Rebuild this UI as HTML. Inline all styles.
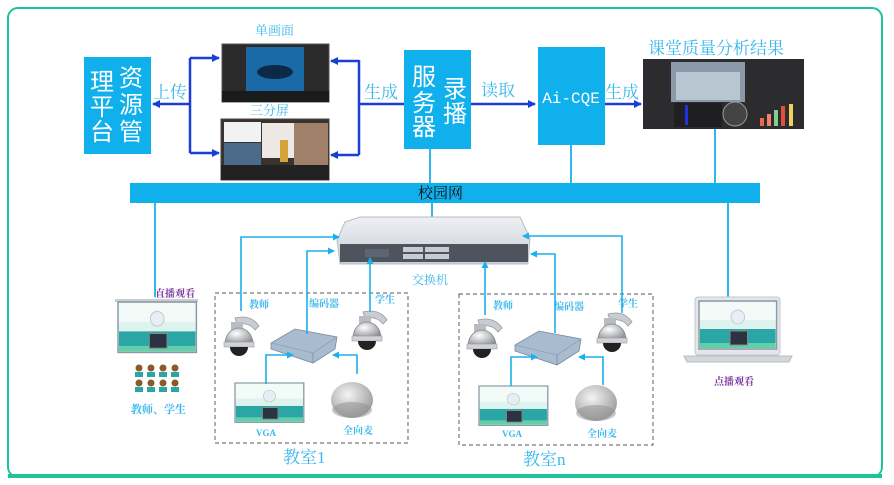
<!DOCTYPE html>
<html><head><meta charset="utf-8"><style>
html,body{margin:0;padding:0;background:#fff}
svg{display:block}
text{font-family:"Liberation Serif","Noto Serif CJK SC",serif}
</style></head><body>
<svg width="894" height="485" viewBox="0 0 894 485" xmlns="http://www.w3.org/2000/svg">
<defs>
<marker id="ab" markerWidth="8" markerHeight="8" refX="7" refY="4" orient="auto" markerUnits="userSpaceOnUse"><path d="M0,0 L8,4 L0,8 z" fill="#1a3fd6"/></marker>
<marker id="ac" markerWidth="7" markerHeight="7" refX="6" refY="3.5" orient="auto" markerUnits="userSpaceOnUse"><path d="M0,0 L7,3.5 L0,7 z" fill="#1ab0ec"/></marker>
<linearGradient id="sw" x1="0" y1="0" x2="0" y2="1"><stop offset="0" stop-color="#eef0f3"/><stop offset="1" stop-color="#c9ced6"/></linearGradient>
<radialGradient id="mic" cx="0.4" cy="0.35" r="0.7"><stop offset="0" stop-color="#f4f4f4"/><stop offset="1" stop-color="#9a9a9a"/></radialGradient>
<radialGradient id="dome" cx="0.4" cy="0.35" r="0.7"><stop offset="0" stop-color="#ffffff"/><stop offset="1" stop-color="#8a8d92"/></radialGradient>
<g id="web">
<rect x="0" y="0" width="80" height="48" fill="#dff3ee" stroke="#8a9aa6" stroke-width="1.5"/>
<rect x="1" y="1" width="78" height="18" fill="#f3fbf8"/>
<rect x="1" y="28" width="78" height="14" fill="#2ba6a6"/>
<rect x="1" y="42" width="78" height="5" fill="#5fd0a8"/>
<rect x="32" y="30" width="18" height="14" fill="#2c3340" stroke="#888" stroke-width="1"/>
<circle cx="40" cy="16" r="7" fill="#e9eef4" stroke="#c0ccd8"/>
</g>
<g id="cam">
<path d="M10,2 Q26,-2 34,10 L30,14 Q24,6 12,8 z" fill="#c9ccd2" stroke="#999" stroke-width="0.8"/>
<rect x="6" y="6" width="12" height="8" fill="#b8bcc3"/>
<path d="M0,28 A14,16 0 0 1 28,28 z" fill="url(#dome)" stroke="#888" stroke-width="0.8"/>
<rect x="-1" y="26" width="30" height="5" fill="#cfd2d7" stroke="#999" stroke-width="0.6"/>
<path d="M5,31 A9,9 0 0 0 23,31 z" fill="#222"/>
</g>
<g id="enc">
<path d="M0,14 L24,0 L66,8 L64,20 L42,34 L0,20 z" fill="#a9bccf" stroke="#7b8a9a" stroke-width="0.8"/>
<path d="M0,14 L42,24 L66,8" fill="none" stroke="#8ea0b3" stroke-width="0.8"/>
<path d="M42,24 L42,34" stroke="#7b8a9a" stroke-width="0.8"/>
</g>
<g id="micg">
<ellipse cx="20" cy="18" rx="21" ry="18" fill="url(#mic)"/>
<ellipse cx="20" cy="28" rx="20" ry="8" fill="#8f8f8f" opacity="0.5"/>
</g>
</defs>

<rect x="8" y="8" width="874" height="469" rx="10" fill="none" stroke="#1fc39b" stroke-width="2"/>
<rect x="8" y="474" width="874" height="4" fill="#1fc39b"/>

<rect x="84" y="57" width="67" height="97" fill="#0fb0ec"/>
<g fill="#fff" font-size="24">
<text x="119" y="86" style="font-family:'Liberation Sans','Noto Sans CJK SC',sans-serif">资</text>
<text x="119" y="113" style="font-family:'Liberation Sans','Noto Sans CJK SC',sans-serif">源</text>
<text x="119" y="140" style="font-family:'Liberation Sans','Noto Sans CJK SC',sans-serif">管</text>
<text x="90" y="90" style="font-family:'Liberation Sans','Noto Sans CJK SC',sans-serif">理</text>
<text x="90" y="115" style="font-family:'Liberation Sans','Noto Sans CJK SC',sans-serif">平</text>
<text x="90" y="140" style="font-family:'Liberation Sans','Noto Sans CJK SC',sans-serif">台</text>
</g>
<text x="153" y="98" font-size="17" fill="#38b8ec">上传</text>
<g stroke="#1a3fd6" stroke-width="2.5" fill="none">
<path d="M190,58 L190,153"/>
<path d="M190,104 L153,104" marker-end="url(#ab)"/>
<path d="M190,58 L219,58" marker-end="url(#ab)"/>
<path d="M190,153 L219,153" marker-end="url(#ab)"/>
<path d="M359,60 L359,155"/>
<path d="M404,104 L359,104"/>
<path d="M359,61 L331,61" marker-end="url(#ab)"/>
<path d="M359,155 L331,155" marker-end="url(#ab)"/>
<path d="M470,104 L535,104" marker-end="url(#ab)"/>
<path d="M604,104 L641,104" marker-end="url(#ab)"/>
</g>

<text x="255" y="35" font-size="13" fill="#38b8ec">单画面</text>
<rect x="222" y="44" width="107" height="58" fill="#2a2a2a" stroke="#555"/>
<rect x="246" y="47" width="58" height="44" fill="#1a6aa8"/>
<ellipse cx="275" cy="72" rx="18" ry="7" fill="#0c2a46"/>
<rect x="222" y="91" width="107" height="11" fill="#1b1b1b"/>
<text x="250" y="115" font-size="13" fill="#38b8ec">三分屏</text>
<rect x="221" y="119" width="108" height="61" fill="#3a3230" stroke="#444"/>
<rect x="224" y="122" width="37" height="20" fill="#f2f2f5"/>
<rect x="224" y="143" width="37" height="22" fill="#4c6a8a"/>
<rect x="262" y="123" width="32" height="35" fill="#ece9e4"/>
<rect x="294" y="123" width="34" height="42" fill="#a08068"/>
<rect x="280" y="140" width="8" height="22" fill="#d4a43a"/>
<rect x="221" y="165" width="108" height="15" fill="#222"/>

<rect x="404" y="50" width="67" height="99" fill="#0fb0ec"/>
<g fill="#fff" font-size="24">
<text x="412" y="85" style="font-family:'Liberation Sans','Noto Sans CJK SC',sans-serif">服</text>
<text x="412" y="111" style="font-family:'Liberation Sans','Noto Sans CJK SC',sans-serif">务</text>
<text x="412" y="135" style="font-family:'Liberation Sans','Noto Sans CJK SC',sans-serif">器</text>
<text x="443" y="97" style="font-family:'Liberation Sans','Noto Sans CJK SC',sans-serif">录</text>
<text x="443" y="122" style="font-family:'Liberation Sans','Noto Sans CJK SC',sans-serif">播</text>
</g>
<text x="364" y="98" font-size="17" fill="#38b8ec">生成</text>
<text x="481" y="96" font-size="17" fill="#38b8ec">读取</text>

<rect x="538" y="47" width="67" height="98" fill="#0fb0ec"/>
<text x="571" y="103" font-size="16" fill="#fff" text-anchor="middle" style="font-family:'Liberation Mono',monospace">Ai-CQE</text>
<text x="605" y="98" font-size="17" fill="#38b8ec">生成</text>

<text x="648" y="54" font-size="17" fill="#38b8ec">课堂质量分析结果</text>
<rect x="643" y="59" width="161" height="70" fill="#2c2c2e"/>
<rect x="671" y="62" width="74" height="40" fill="#8a9aa8"/>
<rect x="676" y="72" width="64" height="28" fill="#b8c6d2"/>
<rect x="674" y="103" width="48" height="24" fill="#1f1f22"/>
<rect x="685" y="105" width="3" height="20" fill="#2230e0"/>
<circle cx="735" cy="114" r="12" fill="#444" stroke="#999"/>
<rect x="760" y="118" width="4" height="8" fill="#e46a4a"/><rect x="767" y="114" width="4" height="12" fill="#f08070"/><rect x="774" y="110" width="4" height="16" fill="#7ed08a"/><rect x="781" y="106" width="4" height="20" fill="#e05040"/><rect x="789" y="104" width="4" height="22" fill="#f0d060"/>

<g stroke="#1ab0ec" stroke-width="1.8" fill="none">
<path d="M430,149 L430,184"/>
<path d="M571,145 L571,184"/>
<path d="M715,129 L715,184"/>
<path d="M155,203 L155,297"/>
<path d="M432,203 L432,220"/>
<path d="M728,203 L728,300"/>
</g>
<rect x="130" y="183" width="630" height="20" fill="#0fb0ec"/>
<text x="418" y="198" font-size="15" fill="#111">校园网</text>

<path d="M345,222 L360,217 L520,217 L530,238 L528,264 L340,264 L337,240 z" fill="url(#sw)" stroke="#b8bec6"/>
<rect x="340" y="244" width="188" height="18" fill="#4d545e"/>
<g fill="#c8ccd2">
<rect x="403" y="247" width="20" height="5"/><rect x="403" y="254" width="20" height="5"/>
<rect x="425" y="247" width="24" height="5"/><rect x="425" y="254" width="24" height="5"/>
<rect x="365" y="249" width="24" height="8" fill="#5d6570"/>
</g>
<text x="412" y="284" font-size="12" fill="#38b8ec">交换机</text>

<rect x="215" y="293" width="193" height="150" fill="none" stroke="#777" stroke-width="1.2" stroke-dasharray="4,3"/>
<text x="283" y="463" font-size="17" fill="#38b8ec">教室1</text>
<text x="249" y="308" font-size="10" fill="#38b8ec" font-weight="bold">教师</text>
<text x="309" y="307" font-size="10" fill="#38b8ec" font-weight="bold">编码器</text>
<text x="375" y="303" font-size="10" fill="#38b8ec" font-weight="bold">学生</text>
<use href="#cam" x="225" y="316"/>
<use href="#cam" x="353" y="310"/>
<use href="#enc" x="271" y="329"/>
<use href="#web" transform="translate(235,383) scale(0.86,0.82)"/>
<use href="#micg" x="332" y="382"/>
<text x="256" y="436" font-size="9" fill="#38b8ec" font-weight="bold">VGA</text>
<text x="343" y="434" font-size="10" fill="#38b8ec" font-weight="bold">全向麦</text>
<g stroke="#1ab0ec" stroke-width="1.6" fill="none">
<path d="M241,311 L241,237 L339,237" marker-end="url(#ac)"/>
<path d="M307,334 L307,251 L334,251" marker-end="url(#ac)"/>
<path d="M370,312 L370,258" marker-end="url(#ac)"/>
<path d="M266,384 L266,355 L293,355" marker-end="url(#ac)"/>
<path d="M357,374 L357,355 L333,355" marker-end="url(#ac)"/>
</g>

<rect x="459" y="294" width="194" height="151" fill="none" stroke="#777" stroke-width="1.2" stroke-dasharray="4,3"/>
<text x="523" y="465" font-size="17" fill="#38b8ec">教室n</text>
<text x="493" y="309" font-size="10" fill="#38b8ec" font-weight="bold">教师</text>
<text x="554" y="310" font-size="10" fill="#38b8ec" font-weight="bold">编码器</text>
<text x="618" y="307" font-size="10" fill="#38b8ec" font-weight="bold">学生</text>
<use href="#cam" x="468" y="318"/>
<use href="#cam" x="598" y="312"/>
<use href="#enc" x="515" y="331"/>
<use href="#web" transform="translate(479,386) scale(0.86,0.82)"/>
<use href="#micg" x="576" y="385"/>
<text x="502" y="437" font-size="9" fill="#38b8ec" font-weight="bold">VGA</text>
<text x="587" y="437" font-size="10" fill="#38b8ec" font-weight="bold">全向麦</text>
<g stroke="#1ab0ec" stroke-width="1.6" fill="none">
<path d="M485,315 L485,262" marker-end="url(#ac)"/>
<path d="M555,333 L555,254 L531,254" marker-end="url(#ac)"/>
<path d="M622,313 L622,236 L523,236" marker-end="url(#ac)"/>
<path d="M511,386 L511,357 L537,357" marker-end="url(#ac)"/>
<path d="M603,385 L603,357 L579,357" marker-end="url(#ac)"/>
</g>

<rect x="115" y="299" width="83" height="3" fill="#ccc"/>
<use href="#web" transform="translate(118,302) scale(0.98,1.05)"/>
<text x="155" y="297" font-size="10" fill="#7a3aa0" font-weight="bold">直播观看</text>
<g fill="#8b5a2b">
<circle cx="139" cy="368" r="3.5"/><circle cx="151" cy="368" r="3.5"/><circle cx="163" cy="368" r="3.5"/><circle cx="175" cy="368" r="3.5"/>
<circle cx="139" cy="383" r="3.5"/><circle cx="151" cy="383" r="3.5"/><circle cx="163" cy="383" r="3.5"/><circle cx="175" cy="383" r="3.5"/>
</g>
<g fill="#2ba6a6">
<rect x="135" y="372" width="8" height="5"/><rect x="147" y="372" width="8" height="5"/><rect x="159" y="372" width="8" height="5"/><rect x="171" y="372" width="8" height="5"/>
<rect x="135" y="387" width="8" height="5"/><rect x="147" y="387" width="8" height="5"/><rect x="159" y="387" width="8" height="5"/><rect x="171" y="387" width="8" height="5"/>
</g>
<text x="131" y="413" font-size="11" fill="#38b8ec" font-weight="bold">教师、学生</text>

<rect x="695" y="297" width="85" height="58" rx="3" fill="#e4e6ea" stroke="#c4c8cd"/>
<use href="#web" transform="translate(699,301) scale(0.97,1.0)"/>
<path d="M684,356 L792,356 L789,362 L687,362 z" fill="#d4d7db" stroke="#b8bcc2"/>
<text x="714" y="385" font-size="10" fill="#7a3aa0" font-weight="bold">点播观看</text>
</svg>
</body></html>
